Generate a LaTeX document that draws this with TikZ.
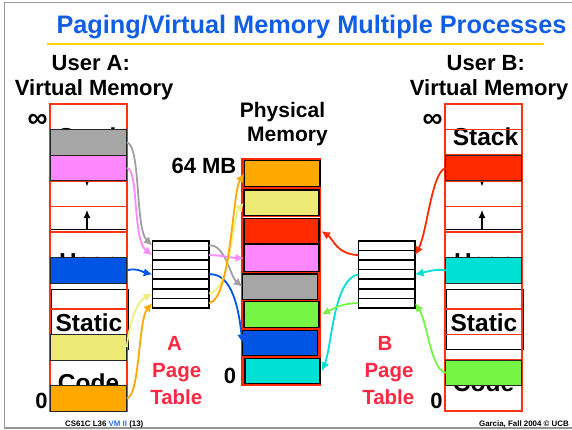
\documentclass[tikz,border=0pt]{standalone}
\usepackage{fontspec}
\setmainfont{Liberation Sans}
\usetikzlibrary{arrows.meta}
\definecolor{ttlblue}{RGB}{16,94,232}
\definecolor{ftblue}{RGB}{40,110,255}
\definecolor{colred}{RGB}{255,51,17}
\definecolor{bgred}{RGB}{255,40,0}
\definecolor{txtred}{RGB}{255,40,64}
\definecolor{pgray}{RGB}{166,166,166}
\definecolor{ppink}{RGB}{255,136,255}
\definecolor{pblue}{RGB}{0,85,229}
\definecolor{pyellow}{RGB}{236,234,116}
\definecolor{porange}{RGB}{255,168,0}
\definecolor{pred}{RGB}{255,42,0}
\definecolor{pgreen}{RGB}{119,245,68}
\definecolor{pcyan}{RGB}{0,224,212}
\definecolor{ayellow}{RGB}{237,237,128}
\definecolor{agray}{RGB}{160,160,160}
\definecolor{framegray}{RGB}{150,150,150}
\definecolor{gold}{RGB}{255,210,0}
\begin{document}
\begin{tikzpicture}[x=1pt,y=-1pt,
  hd/.style={anchor=base, inner sep=0pt, font=\bfseries\fontsize{22}{22}\selectfont},
  seg/.style={anchor=base, inner sep=0pt, font=\bfseries\fontsize{24.5}{24.5}\selectfont},
  ptl/.style={anchor=base, inner sep=0pt, text=txtred, font=\bfseries\fontsize{20.5}{20.5}\selectfont},
  ft/.style={inner sep=0pt, font=\bfseries\fontsize{7.9}{8}\selectfont},
  inf/.style={inner sep=0pt, font=\bfseries\fontsize{28}{28}\selectfont},
  cell/.style={draw=colred, line width=1.5pt},
  vpage/.style={draw=black!85, line width=0.9pt, minimum width=76pt, minimum height=25.6pt, anchor=north west, inner sep=0pt, outer sep=0pt},
  ppage/.style={draw=black, line width=1.2pt, anchor=north west, inner sep=0pt, outer sep=0pt},
  pte/.style={draw=black, fill=white, line width=1.6pt, minimum width=56.7pt, minimum height=9.6pt, anchor=north west, inner sep=0pt, outer sep=0pt},
  conn/.style={line width=1.8pt, -{Latex[length=8.5pt,width=8.5pt]}},
  blk/.style={line width=1.2pt}
]
\useasboundingbox (0,0) rectangle (572,429);
% frame
\draw[framegray, line width=1.3pt] (572,2.3) -- (4.5,2.3) -- (4.5,428) -- (572,428);
% title
\node[anchor=base, inner sep=0pt, text=ttlblue, font=\bfseries\fontsize{25.3}{25}\selectfont] (title) at (311.5,33.3) {Paging/Virtual Memory Multiple Processes};
\draw[gold, line width=2.8pt] (46.7,44) -- (543.8,44);
% headings
\node[hd] (ua) at (90.8,70) {User A:};
\node[hd] (vma) at (94.2,95.2) {Virtual Memory};
\node[hd] (ub) at (485.8,70) {User B:};
\node[hd] (vmb) at (489.2,95.2) {Virtual Memory};
\node[anchor=base, inner sep=0pt, font=\bfseries\fontsize{21}{21}\selectfont] (phys1) at (282.5,117) {Physical};
\node[anchor=base, inner sep=0pt, font=\bfseries\fontsize{21}{21}\selectfont] (phys2) at (287.5,141) {Memory};
\node[inf] (infa) at (37.5,120.5) {∞};
\node[inf] (infb) at (432.5,120.5) {∞};
\node[hd] (mb) at (204,173) {64 MB};
\node[hd] (zp) at (230,383) {0};
\node[hd] (za) at (41.5,408) {0};
\node[hd] (zb) at (436.5,408) {0};
% segment labels (partly hidden by pages)
\foreach \c/\n in {88.5/A,483.5/B}{
  \node[seg] (stack\n) at (\c+2,145) {Stack};
  \node[seg] (heap\n) at (\c+0.5,270) {Heap};
  \node[seg] (static\n) at (\c+0.5,331) {Static};
  \node[seg] (code\n) at (\c,391) {Code};
  \draw[blk] (\c-37.5,289.7) rectangle (\c+39.7,349.3);
  \draw[blk] (\c-37.5,229.5) -- (\c+37.5,229.5);
  \draw[blk, -{Latex[length=8pt,width=7pt]}] (\c-1.5,229.5) -- (\c-1.5,210);
  \draw[blk, -{Latex[length=7pt,width=6pt]}] (\c-1.5,165) -- (\c-1.5,186.5);
  \foreach \i in {0,...,11}
    \draw[cell] (\c-38.5,{104+25.6*\i}) rectangle (\c+38.5,{104+25.6*(\i+1)});
}
% user A pages
\node[vpage, fill=pgray] (Agray) at (50.8,129.6) {};
\node[vpage, fill=ppink] (Apink) at (50.8,155.2) {};
\node[vpage, fill=pblue] (Ablue) at (50.8,257.6) {};
\node[vpage, fill=pyellow] (Ayellow) at (50.8,334.4) {};
\node[vpage, fill=porange] (Aorange) at (50.8,385.6) {};
% user B pages
\node[vpage, fill=pred] (Bred) at (445.8,155.2) {};
\node[vpage, fill=pcyan] (Bcyan) at (445.8,257.6) {};
\node[vpage, fill=pgreen] (Bgreen) at (445.8,360) {};
% page tables
\foreach \i in {0,...,6}{
  \node[pte] (PA\i) at (152.3,{240.7+9.6*\i}) {};
  \node[pte] (PB\i) at (358.3,{240.7+9.6*\i}) {};
}
% physical memory
\fill[bgred] (241,158) rectangle (321,386);
\node[ppage, fill=porange, minimum width=75.7pt, minimum height=25.6pt] (PMorange) at (244.3,160.7) {};
\node[ppage, fill=pyellow, minimum width=75pt, minimum height=25.7pt] (PMyellow) at (244,190) {};
\draw[white, line width=1pt] (243,217.3) -- (320,217.3);
\node[ppage, fill=pred, minimum width=75pt, minimum height=24.7pt] (PMred) at (244,218.8) {};
\node[ppage, fill=ppink, minimum width=75pt, minimum height=27.4pt] (PMpink) at (244,244.3) {};
\node[ppage, fill=pgray, minimum width=75pt, minimum height=25.3pt] (PMgray) at (242.3,274) {};
\node[ppage, fill=pgreen, minimum width=75pt, minimum height=25.6pt] (PMgreen) at (244,301.7) {};
\node[ppage, fill=pblue, minimum width=75pt, minimum height=25.4pt] (PMblue) at (242.3,330.3) {};
\node[ppage, fill=pcyan, minimum width=75pt, minimum height=25.2pt] (PMcyan) at (245,358.3) {};
\coordinate (Tred) at ([xshift=2.5pt]PMred.east);
\coordinate (Tgreen) at ([xshift=2.5pt]PMgreen.east);
\coordinate (Tcyan) at ([xshift=2pt]PMcyan.east);
% page table labels
\node[ptl] (la1) at (174.5,350.7) {A};
\node[ptl] (la2) at (176.7,377.5) {Page};
\node[ptl] (la3) at (176.3,404) {Table};
\node[ptl] (lb1) at (385,350.7) {B};
\node[ptl] (lb2) at (389,377.5) {Page};
\node[ptl] (lb3) at (388.3,404) {Table};
% connectors: user A -> page table A
\draw[conn, agray] (Agray.east) .. controls +(14,2) and +(-17,-16) .. (PA0.west);
\draw[conn, ppink] (Apink.east) .. controls +(12,0) and +(-20,-15) .. (PA1.west);
\draw[conn, pblue] (Ablue.east) .. controls +(10,-3) and +(-9,-2) .. (PA3.west);
\draw[conn, ayellow] (Ayellow.east) .. controls +(3,-28) and +(-15,8) .. (PA5.west);
\draw[conn, porange] (Aorange.east) .. controls +(13,-2) and +(-14,16) .. (PA6.west);
% page table A -> physical
\draw[conn, agray] (PA0.east) .. controls +(16,-2) and +(-12,-10) .. (PMgray.west);
\draw[conn, ppink] (PA1.east) .. controls +(12,0) and +(-12,0) .. (PMpink.west);
\draw[conn, pblue] (PA3.east) .. controls +(24,-2) and +(-3,-30) .. (PMblue.west);
\draw[conn, ayellow] (PA5.east) .. controls +(22,-2) and +(-12,14) .. (PMyellow.west);
\draw[conn, porange] (PA6.east) .. controls +(22,-3) and +(-12,18) .. (PMorange.west);
% user B -> page table B
\draw[conn, pred] (Bred.west) .. controls +(-14,3) and +(12,-22) .. (PB1.east);
\draw[conn, pcyan] (Bcyan.west) .. controls +(-10,-2) and +(10,-2) .. (PB3.east);
\draw[conn, pgreen] (Bgreen.west) .. controls +(-15,-3) and +(12,18) .. (PB6.east);
% page table B -> physical
\draw[conn, pred] (PB1.west) .. controls +(-22,-1) and +(12,8) .. (Tred);
\draw[conn, pcyan] (PB3.west) .. controls +(-25,5) and +(10,-25) .. (Tcyan);
\draw[conn, pgreen] (PB6.west) .. controls +(-16,0) and +(12,-6) .. (Tgreen);
% footer
\node[ft, anchor=base west] (fl) at (65,426) {CS61C L36 \textcolor{ftblue}{VM II} (13)};
\node[ft, anchor=base east] (fr) at (569,426) {Garcia, Fall 2004 © UCB};
\end{tikzpicture}
\end{document}
